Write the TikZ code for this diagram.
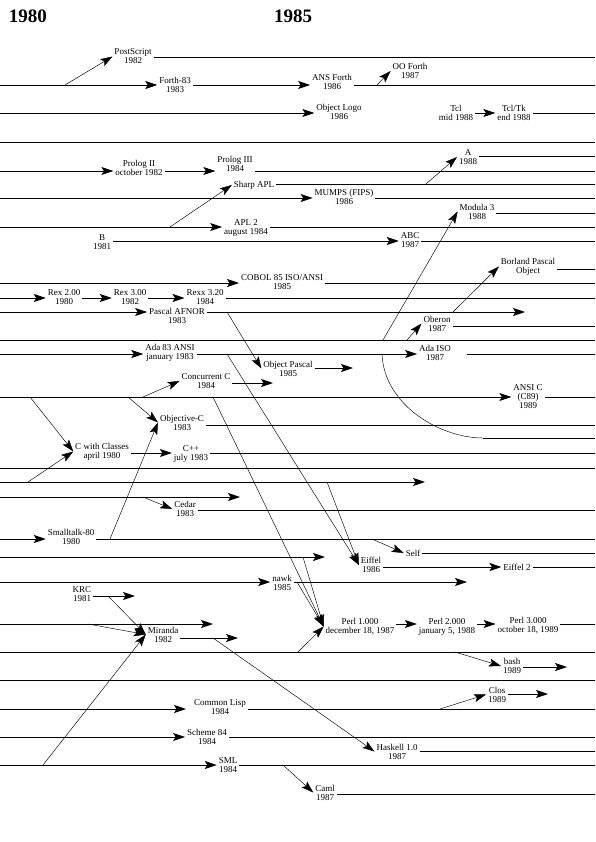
\documentclass[tikz,border=0pt]{standalone}
\usepackage{fontspec}
\setmainfont{Liberation Serif}
\usetikzlibrary{arrows.meta}
\begin{document}
\begin{tikzpicture}[x=1pt,y=-1pt,
  tl/.style={line width=0.8pt},
  dl/.style={line width=0.45pt},
  arr/.style={-{Stealth[length=12pt,width=8pt,inset=2.5pt]}},
  lbl/.style={font=\fontsize{9}{9}\selectfont, align=center, inner sep=1.8pt},
  yr/.style={font=\fontsize{19}{19}\selectfont\bfseries, inner sep=0pt}]
\useasboundingbox (0,0) rectangle (595,842);
\coordinate (R) at (595,0);
\foreach \y in {57,85,113,142,156,171,184,198,213,227,241,269,283,298,312,326,340,354,368,383,397,425,438,453,468,482,497,510,539,553,557,567,582,596,624,638,652,667,680,694,709,737,751,765,794}
  \coordinate (r\y) at (0,\y);

% headers
\node[yr] (h1980) at (28,16) {1980};
\node[yr] (h1985) at (293,16) {1985};

% labels
\node[lbl] (postscript) at (133,56.5) {PostScript\\1982};
\node[lbl] (forth83) at (175,84.5) {Forth-83\\1983};
\node[lbl] (ansforth) at (332,81.5) {ANS Forth\\1986};
\node[lbl] (ooforth) at (410,71) {OO Forth\\1987};
\node[lbl] (objlogo) at (339,112) {Object Logo\\1986};
\node[lbl] (tcl) at (456,113) {Tcl\\mid 1988};
\node[lbl] (tcltk) at (514,112.5) {Tcl/Tk\\end 1988};
\node[lbl] (a88) at (468,157) {A\\1988};
\node[lbl] (prolog2) at (139,168) {Prolog II\\october 1982};
\node[lbl] (prolog3) at (235,164) {Prolog III\\1984};
\node[lbl] (sharpapl) at (254,185) {Sharp APL};
\node[lbl] (mumps) at (344,197) {MUMPS (FIPS)\\1986};
\node[lbl] (modula3) at (477,211.5) {Modula 3\\1988};
\node[lbl] (apl2) at (246,227.5) {APL 2\\august 1984};
\node[lbl] (b81) at (102,242) {B\\1981};
\node[lbl] (abc) at (410,240.5) {ABC\\1987};
\node[lbl] (borland) at (528,266.5) {Borland Pascal\\Object};
\node[lbl] (cobol) at (282,282) {COBOL 85 ISO/ANSI\\1985};
\node[lbl] (rex200) at (64,297.5) {Rex 2.00\\1980};
\node[lbl] (rex300) at (130,297.5) {Rex 3.00\\1982};
\node[lbl] (rexx320) at (205,297.5) {Rexx 3.20\\1984};
\node[lbl] (pascal) at (177,316) {Pascal AFNOR\\1983};
\node[lbl] (oberon) at (437,323.5) {Oberon\\1987};
\node[lbl] (ada83) at (170,353) {Ada 83 ANSI\\january 1983};
\node[lbl] (adaiso) at (435,352.5) {Ada ISO\\1987};
\node[lbl] (objpascal) at (288,368.5) {Object Pascal\\1985};
\node[lbl] (concc) at (206,381) {Concurrent C\\1984};
\node[lbl] (ansic) at (528,397) {ANSI C\\(C89)\\1989};
\node[lbl] (objc) at (182,422.5) {Objective-C\\1983};
\node[lbl] (cwc) at (102,451.5) {C with Classes\\april 1980};
\node[lbl] (cpp) at (191,453.5) {C++\\july 1983};
\node[lbl] (cedar) at (185,509) {Cedar\\1983};
\node[lbl] (smalltalk) at (71,537) {Smalltalk-80\\1980};
\node[lbl] (self) at (413,553) {Self};
\node[lbl] (eiffel) at (371,565) {Eiffel\\1986};
\node[lbl] (eiffel2) at (517,567) {Eiffel 2};
\node[lbl] (nawk) at (282,582.5) {nawk\\1985};
\node[lbl] (krc) at (82,594) {KRC\\1981};
\node[lbl] (miranda) at (163,634.5) {Miranda\\1982};
\node[lbl] (perl1) at (360,626.5) {Perl 1.000\\december 18, 1987};
\node[lbl] (perl2) at (447,626.5) {Perl 2.000\\january 5, 1988};
\node[lbl] (perl3) at (528,625.5) {Perl 3.000\\october 18, 1989};
\node[lbl] (bash) at (512,666) {bash\\1989};
\node[lbl] (clos) at (497,694.5) {Clos\\1989};
\node[lbl] (commonlisp) at (220,707) {Common Lisp\\1984};
\node[lbl] (scheme84) at (207,736.5) {Scheme 84\\1984};
\node[lbl] (haskell) at (397,751.5) {Haskell 1.0\\1987};
\node[lbl] (sml) at (228,765.5) {SML\\1984};
\node[lbl] (caml) at (325,792.5) {Caml\\1987};

% free ends and branch points
\coordinate (e312) at (525,312);
\coordinate (e368) at (353,368);
\coordinate (e383) at (273,383);
\coordinate (e482) at (425,482);
\coordinate (e497) at (240,497);
\coordinate (e557) at (325,557);
\coordinate (e582) at (467,582);
\coordinate (e596) at (135,596);
\coordinate (e624) at (213,624);
\coordinate (e638) at (238,638);
\coordinate (e667) at (567,667);
\coordinate (e694) at (548,694);
\coordinate (e709) at (186,709);
\coordinate (b354) at (467,354);
\coordinate (c0) at (382,354);
\coordinate (c1) at (483,438);

% horizontal time lines
\draw[tl] (postscript.east |- r57) -- (r57 -| R);
\draw[tl,arr] (r85) -- (forth83.west |- r85);
\draw[tl,arr] (forth83.east |- r85) -- (ansforth.west |- r85);
\draw[tl] (ansforth.east |- r85) -- (r85 -| R);
\draw[tl,arr] (r113) -- (objlogo.west |- r113);
\draw[tl,arr] (tcl.east |- r113) -- (tcltk.west |- r113);
\draw[tl] (tcltk.east |- r113) -- (r113 -| R);
\draw[tl] (r142) -- (r142 -| R);
\draw[tl] (a88.east |- r156) -- (r156 -| R);
\draw[tl,arr] (r171) -- (prolog2.west |- r171);
\draw[tl,arr] (prolog2.east |- r171) -- (prolog3.west |- r171);
\draw[tl] (prolog3.east |- r171) -- (r171 -| R);
\draw[tl] (sharpapl.east |- r184) -- (r184 -| R);
\draw[tl,arr] (r198) -- (mumps.west |- r198);
\draw[tl] (mumps.east |- r198) -- (r198 -| R);
\draw[tl] (modula3.east |- r213) -- (r213 -| R);
\draw[tl,arr] (r227) -- (apl2.west |- r227);
\draw[tl] (apl2.east |- r227) -- (r227 -| R);
\draw[tl,arr] (b81.east |- r241) -- (abc.west |- r241);
\draw[tl] (abc.east |- r241) -- (r241 -| R);
\draw[tl] (borland.east |- r269) -- (r269 -| R);
\draw[tl,arr] (r283) -- (cobol.west |- r283);
\draw[tl] (cobol.east |- r283) -- (r283 -| R);
\draw[tl,arr] (r298) -- (rex200.west |- r298);
\draw[tl,arr] (rex200.east |- r298) -- (rex300.west |- r298);
\draw[tl,arr] (rex300.east |- r298) -- (rexx320.west |- r298);
\draw[tl] (rexx320.east |- r298) -- (r298 -| R);
\draw[tl,arr] (r312) -- (pascal.west |- r312);
\draw[tl,arr] (pascal.east |- r312) -- (e312);
\draw[tl] (oberon.east |- r326) -- (r326 -| R);
\draw[tl] (r340) -- (r340 -| R);
\draw[tl,arr] (r354) -- (ada83.west |- r354);
\draw[tl,arr] (ada83.east |- r354) -- (adaiso.west |- r354);
\draw[tl] (b354) -- (r354 -| R);
\draw[tl,arr] (objpascal.east |- r368) -- (e368);
\draw[tl,arr] (concc.east |- r383) -- (e383);
\draw[tl,arr] (r397) -- (ansic.west |- r397);
\draw[tl] (ansic.east |- r397) -- (r397 -| R);
\draw[tl] (objc.east |- r425) -- (r425 -| R);
\draw[dl] (c0) .. controls (384,405) and (440,438) .. (c1);
\draw[tl] (c1) -- (r438 -| R);
\draw[tl,arr] (cwc.east |- r453) -- (cpp.west |- r453);
\draw[tl] (cpp.east |- r453) -- (r453 -| R);
\draw[tl] (r468) -- (r468 -| R);
\draw[tl,arr] (r482) -- (e482);
\draw[tl,arr] (r497) -- (e497);
\draw[tl] (cedar.east |- r510) -- (r510 -| R);
\draw[tl,arr] (r539) -- (smalltalk.west |- r539);
\draw[tl] (smalltalk.east |- r539) -- (r539 -| R);
\draw[tl] (self.east |- r553) -- (r553 -| R);
\draw[tl,arr] (r557) -- (e557);
\draw[tl,arr] (eiffel.east |- r567) -- (eiffel2.west |- r567);
\draw[tl] (eiffel2.east |- r567) -- (r567 -| R);
\draw[tl,arr] (r582) -- (nawk.west |- r582);
\draw[tl,arr] (nawk.east |- r582) -- (e582);
\draw[tl,arr] (krc.east |- r596) -- (e596);
\draw[tl,arr] (r624) -- (e624);
\draw[tl,arr] (perl1.east |- r624) -- (perl2.west |- r624);
\draw[tl,arr] (perl2.east |- r624) -- (perl3.west |- r624);
\draw[tl] (perl3.east |- r624) -- (r624 -| R);
\draw[tl,arr] (miranda.east |- r638) -- (e638);
\draw[tl] (r652) -- (r652 -| R);
\draw[tl,arr] (bash.east |- r667) -- (e667);
\draw[tl] (r680) -- (r680 -| R);
\draw[tl,arr] (clos.east |- r694) -- (e694);
\draw[tl,arr] (r709) -- (e709);
\draw[tl] (commonlisp.east |- r709) -- (r709 -| R);
\draw[tl,arr] (r737) -- (scheme84.west |- r737);
\draw[tl] (scheme84.east |- r737) -- (r737 -| R);
\draw[tl] (haskell.east |- r751) -- (r751 -| R);
\draw[tl,arr] (r765) -- (sml.west |- r765);
\draw[tl] (sml.east |- r765) -- (r765 -| R);
\draw[tl] (caml.east |- r794) -- (r794 -| R);

% influence arrows
\coordinate (d1) at (65,85);    \draw[dl,arr] (d1) -- (postscript.west);
\coordinate (d2) at (377,85);   \draw[dl,arr] (d2) -- (ooforth.west);
\coordinate (d3) at (170,227);  \draw[dl,arr] (d3) -- (sharpapl.west);
\coordinate (d4) at (426,184);  \draw[dl,arr] (d4) -- (a88.west);
\coordinate (d5) at (383,340);  \draw[dl,arr] (d5) -- (modula3.west);
\coordinate (d6) at (453,312);  \draw[dl,arr] (d6) -- (borland.west);
\coordinate (d7) at (407,340);  \draw[dl,arr] (d7) -- (oberon.west);
\coordinate (d8) at (227,312);  \draw[dl,arr] (d8) -- (objpascal.west);
\coordinate (d9) at (143,397);  \draw[dl,arr] (d9) -- (concc.west);
\coordinate (d10) at (30,397);  \draw[dl,arr] (d10) -- (cwc.west);
\coordinate (d11) at (28,482);  \draw[dl,arr] (d11) -- (cwc.west);
\coordinate (d12) at (128,397); \draw[dl,arr] (d12) -- (objc.west);
\coordinate (d13) at (110,539); \draw[dl,arr] (d13) -- (objc.west);
\coordinate (d14) at (143,497); \draw[dl,arr] (d14) -- (cedar.west);
\coordinate (d15) at (372,539); \draw[dl,arr] (d15) -- (self.west);
\coordinate (d16) at (227,354); \draw[dl,arr] (d16) -- (eiffel.west);
\coordinate (d17) at (327,482); \draw[dl,arr] (d17) -- (eiffel.west);
\coordinate (d18) at (213,397); \draw[dl,arr] (d18) -- (perl1.west);
\coordinate (d19) at (303,557); \draw[dl,arr] (d19) -- (perl1.west);
\coordinate (d20) at (297,582); \draw[dl,arr] (d20) -- (perl1.west);
\coordinate (d21) at (298,652); \draw[dl,arr] (d21) -- (perl1.west);
\coordinate (d22) at (108,596); \draw[dl,arr] (d22) -- (miranda.west);
\coordinate (d23) at (88,624);  \draw[dl,arr] (d23) -- (miranda.west);
\coordinate (d24) at (43,765);  \draw[dl,arr] (d24) -- (miranda.west);
\coordinate (d25) at (213,638); \draw[dl,arr] (d25) -- (haskell.west);
\coordinate (d26) at (455,652); \draw[dl,arr] (d26) -- (bash.west);
\coordinate (d27) at (440,709); \draw[dl,arr] (d27) -- (clos.west);
\coordinate (d28) at (283,765); \draw[dl,arr] (d28) -- (caml.west);
\end{tikzpicture}
\end{document}
